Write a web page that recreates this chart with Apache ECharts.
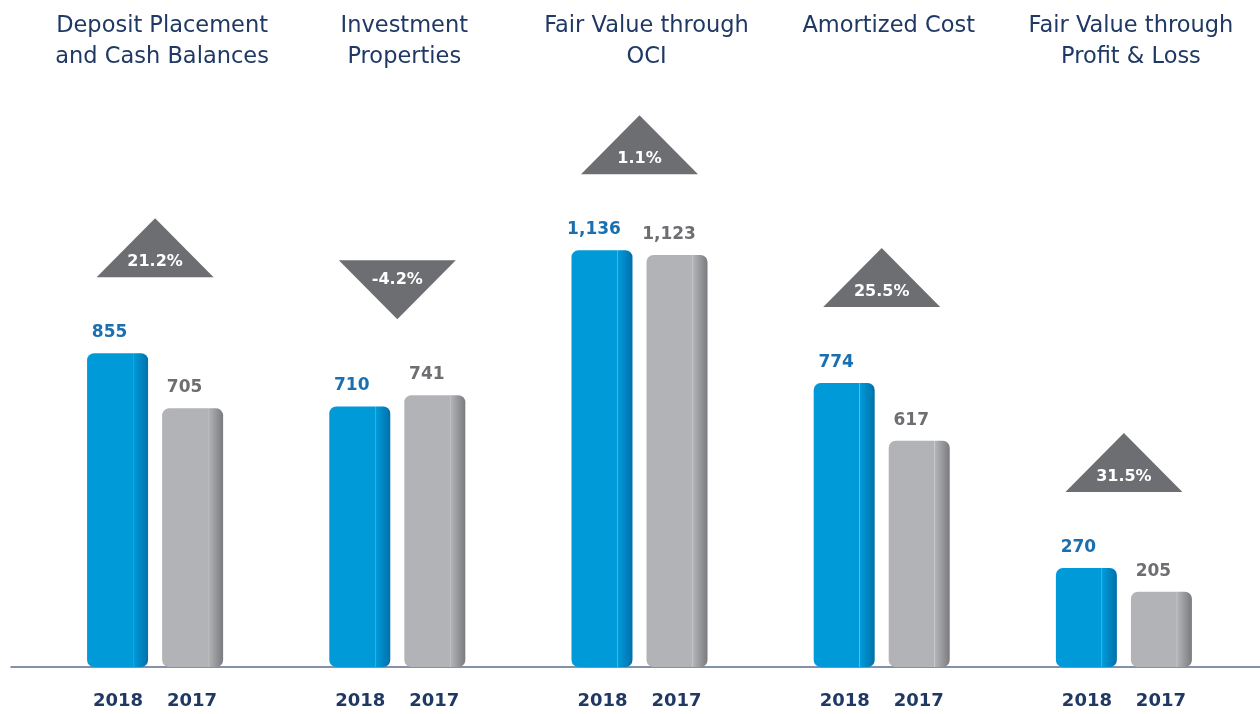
<html>
<head>
<meta charset="utf-8">
<script src="https://cdn.jsdelivr.net/npm/echarts@6/dist/echarts.min.js"></script>
<style>
  html, body { margin: 0; padding: 0; background: #fff; }
  #chart { width: 1260px; height: 714px; }
</style>
</head>
<body>
<div id="chart"></div>
<script type="text/javascript">
    // data
    var categories = [
        'Deposit Placement\nand Cash Balances',
        'Investment\nProperties',
        'Fair Value through\nOCI',
        'Amortized Cost',
        'Fair Value through\nProfit & Loss'
    ];
    var years = ['2018', '2017'];
    var values2018 = [855, 710, 1136, 774, 270];
    var values2017 = [705, 741, 1123, 617, 205];
    var changes = ['21.2%', '-4.2%', '1.1%', '25.5%', '31.5%'];

    var navy = '#1f3864';
    var font = '"DejaVu Sans", sans-serif';

    function barColor(base, line, dark) {
        return {
            type: 'linear', x: 0, y: 0, x2: 1, y2: 0,
            colorStops: [
                { offset: 0, color: base },
                { offset: 0.745, color: base },
                { offset: 0.75, color: line },
                { offset: 0.765, color: base },
                { offset: 1, color: dark }
            ]
        };
    }

    var fmt = function (p) { return p.value.toLocaleString('en-US'); };

    var triData = categories.map(function (c, i) {
        return [i, Math.max(values2018[i], values2017[i]), changes[i]];
    });

    var chart = echarts.init(document.getElementById('chart'));

    var option = {
        animation: false,
        grid: [
            { left: 34, right: 15, top: 80, bottom: 47 },
            { left: 11, right: 0, top: 80, bottom: 47 }
        ],
        xAxis: [
            {
                type: 'category', gridIndex: 0, data: categories,
                axisLine: { show: false }, axisTick: { show: false },
                axisLabel: {
                    interval: 0, margin: 25,
                    formatter: function () { return '{y|' + years[0] + '}{y|' + years[1] + '}'; },
                    rich: {
                        y: { width: 74, align: 'center', fontSize: 18, fontWeight: 'bold', color: navy, fontFamily: font }
                    }
                }
            },
            {
                type: 'category', gridIndex: 0, position: 'top', data: categories,
                axisLine: { show: false }, axisTick: { show: false },
                axisLabel: {
                    interval: 0, margin: 69, verticalAlign: 'top', padding: [0, 0, 0, 14],
                    fontSize: 22.5, lineHeight: 31, color: navy, fontFamily: font
                }
            },
            {
                type: 'value', gridIndex: 1, min: 0, max: 1,
                axisLine: { show: true, onZero: false, lineStyle: { color: '#5b6e8f', width: 1.5 } },
                axisTick: { show: false }, axisLabel: { show: false }, splitLine: { show: false }
            }
        ],
        yAxis: [
            { type: 'value', gridIndex: 0, min: 0, max: 1600, show: false },
            { type: 'value', gridIndex: 1, min: 0, max: 1, show: false }
        ],
        series: [
            {
                name: years[0], type: 'bar', xAxisIndex: 0, yAxisIndex: 0,
                data: values2018, barWidth: 61, barGap: '23%',
                itemStyle: { color: barColor('#009ad9', '#5fc2ec', '#0070aa'), borderRadius: 7 },
                label: {
                    show: true, position: 'top', distance: 12, offset: [-8, 0], formatter: fmt,
                    fontSize: 17, fontWeight: 'bold', color: '#1a6fb0', fontFamily: font
                }
            },
            {
                name: years[1], type: 'bar', xAxisIndex: 0, yAxisIndex: 0,
                data: values2017, barWidth: 61,
                itemStyle: { color: barColor('#b1b3b6', '#c8cacc', '#7a7b7e'), borderRadius: 7 },
                label: {
                    show: true, position: 'top', distance: 12, offset: [-8, 0], formatter: fmt,
                    fontSize: 17, fontWeight: 'bold', color: '#6d6e71', fontFamily: font
                }
            },
            {
                type: 'custom', xAxisIndex: 0, yAxisIndex: 0,
                data: triData,
                renderItem: function (params, api) {
                    var p = api.coord([api.value(0), api.value(1)]);
                    var txt = triData[params.dataIndex][2];
                    var up = txt.charAt(0) !== '-';
                    var cx = p[0], low = p[1] - 76, hw = 58.5, h = 59;
                    var pts, ty;
                    if (up) {
                        pts = [[cx - hw, low], [cx + hw, low], [cx, low - h]];
                        ty = low - 15;
                    } else {
                        pts = [[cx - hw, low - h], [cx + hw, low - h], [cx, low]];
                        ty = low - h + 20;
                    }
                    return {
                        type: 'group',
                        children: [
                            { type: 'polygon', shape: { points: pts }, style: { fill: '#6d6e71' } },
                            {
                                type: 'text',
                                style: {
                                    text: txt, x: cx, y: ty, fill: '#fff', align: 'center', verticalAlign: 'middle',
                                    font: 'bold 16px ' + font
                                }
                            }
                        ]
                    };
                }
            }
        ]
    };

    chart.setOption(option);
</script>
</body>
</html>
